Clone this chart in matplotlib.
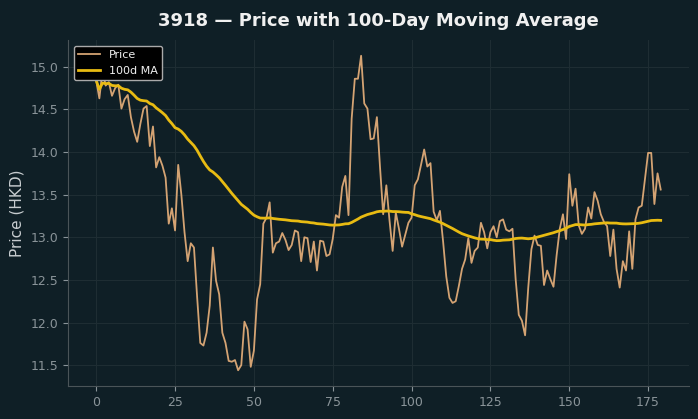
import matplotlib
matplotlib.use("Agg")
import matplotlib.pyplot as plt
import numpy as np
import pandas as pd

# closing prices, one per trading day
price = [
    14.84, 14.63, 14.96, 14.78, 14.82, 14.66, 14.75, 14.79, 14.51, 14.62,
    14.67, 14.41, 14.24, 14.12, 14.33, 14.51, 14.54, 14.07, 14.30, 13.82,
    13.94, 13.84, 13.70, 13.16, 13.34, 13.08, 13.85, 13.50, 13.06, 12.72,
    12.93, 12.88, 12.30, 11.76, 11.73, 11.88, 12.20, 12.88, 12.49, 12.33,
    11.88, 11.76, 11.55, 11.54, 11.56, 11.44, 11.50, 12.01, 11.92, 11.48,
    11.67, 12.27, 12.45, 13.16, 13.23, 13.41, 12.82, 12.93, 12.95, 13.05,
    12.97, 12.85, 12.91, 13.08, 13.06, 12.72, 13.00, 12.99, 12.71, 12.95,
    12.61, 12.96, 12.95, 12.78, 12.80, 12.98, 13.26, 13.23, 13.59, 13.72,
    13.26, 14.39, 14.86, 14.86, 15.13, 14.57, 14.51, 14.15, 14.16, 14.41,
    13.82, 13.27, 13.61, 13.20, 12.84, 13.29, 13.10, 12.89, 13.03, 13.17,
    13.23, 13.61, 13.68, 13.85, 14.03, 13.83, 13.87, 13.30, 13.20, 13.31,
    12.95, 12.54, 12.29, 12.23, 12.25, 12.43, 12.63, 12.74, 12.99, 12.70,
    12.84, 12.88, 13.17, 13.06, 12.87, 13.06, 13.13, 13.00, 13.19, 13.21,
    13.09, 13.07, 13.10, 12.51, 12.09, 12.02, 11.85, 12.41, 12.86, 13.02,
    12.91, 12.90, 12.44, 12.61, 12.51, 12.42, 12.79, 13.10, 13.27, 12.98,
    13.74, 13.37, 13.57, 13.14, 13.04, 13.10, 13.35, 13.22, 13.53, 13.43,
    13.27, 13.18, 13.13, 12.78, 13.09, 12.63, 12.41, 12.72, 12.61, 13.07,
    12.63, 13.21, 13.35, 13.37, 13.68, 13.99, 13.99, 13.39, 13.75, 13.56,
]

ticker = "3918"
window = 100

days = np.arange(len(price))
ma = pd.Series(price).rolling(window, min_periods=1).mean()

bg = "#0f1f26"
fig = plt.figure(figsize=(6.98, 4.19), dpi=100, facecolor=bg)
ax = fig.add_axes([0.0974, 0.0788, 0.8896, 0.8257], facecolor=bg)

ax.plot(days, price, color="#d4a373", lw=1.3, label="Price")
ax.plot(days, ma, color="#e8bb12", lw=2.0, label="100d MA")

ax.set_title(f"{ticker} \u2014 Price with 100-Day Moving Average",
             color="#f0f0f0", fontsize=13, fontweight="bold", pad=10)
ax.set_ylabel("Price (HKD)", color="#c8cdd0", fontsize=11)

ax.grid(True, color="#1e2d33", lw=0.8)
ax.set_axisbelow(True)
ax.tick_params(colors="#8a9499", labelsize=9)
for s in ["top", "right"]:
    ax.spines[s].set_visible(False)
for s in ["left", "bottom"]:
    ax.spines[s].set_color("#4a5458")

ax.set_xticks([0, 25, 50, 75, 100, 125, 150, 175])
ax.set_yticks([11.5, 12.0, 12.5, 13.0, 13.5, 14.0, 14.5, 15.0])

leg = ax.legend(loc="upper left", facecolor="black", edgecolor="#aaaaaa",
                fontsize=8, framealpha=1.0)
for t in leg.get_texts():
    t.set_color("#f0f0f0")

fig.savefig("out.png", dpi=100, facecolor=bg)
